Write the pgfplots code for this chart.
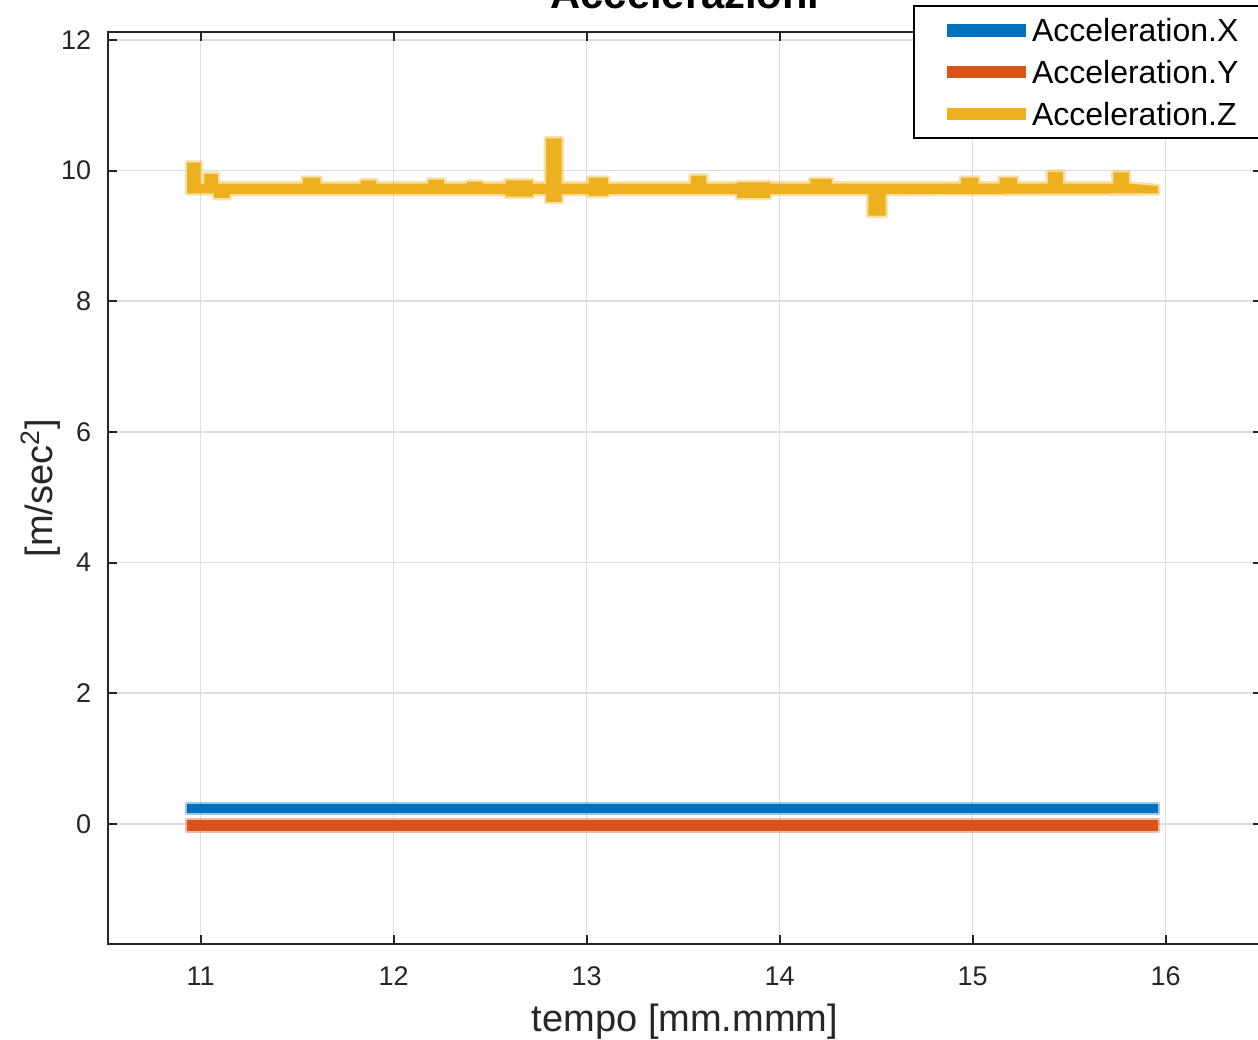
\documentclass[border=0pt]{standalone}
\usepackage{pgfplots}
\pgfplotsset{compat=1.18}
\usepackage{fontspec}
\setmainfont{Liberation Sans}
\definecolor{mblue}{RGB}{0,114,189}
\definecolor{morange}{RGB}{217,83,25}
\definecolor{myellow}{RGB}{237,177,32}
\definecolor{axgray}{RGB}{38,38,38}
\begin{document}
\begin{tikzpicture}
\useasboundingbox (-32.4pt,-28.8pt) rectangle (345pt,283.2pt);
\clip (-32.4pt,-28.8pt) rectangle (345pt,283.2pt);
\begin{axis}[
  at={(0,0)}, anchor=south west,
  scale only axis, width=346.2pt, height=273.6pt,
  xmin=10.52, xmax=16.5, ymin=-1.837, ymax=12.12,
  xtick={11,12,13,14,15,16}, ytick={0,2,4,6,8,10,12},
  grid=major, major grid style={line width=0.5pt, color=black!13},
  axis line style={line width=0.6pt, color=axgray},
  major tick style={line width=0.6pt, color=axgray},
  major tick length=2.7pt, tick align=inside,
  /pgf/number format/assume math mode=true,
  tick label style={font=\fontsize{8.1}{10}\selectfont, color=axgray},
  xticklabel style={yshift=-3.2pt},
  yticklabel style={xshift=-1.5pt},
  title={\bfseries Accelerazioni},
  every axis title/.style={at={(axis description cs:0.5,1.0252)}, anchor=base, font=\fontsize{12.5}{14}\selectfont},
  xlabel={tempo [mm.mmm]},
  every axis x label/.style={at={(axis description cs:0.5,0)}, anchor=base, yshift=-26.4pt, font=\fontsize{11.4}{13}\selectfont, color=axgray},
  ylabel={[m/sec\textsuperscript{2}]},
  every axis y label/.style={at={(axis description cs:-0.0477,0.5)}, rotate=90, anchor=base, font=\fontsize{11.4}{13}\selectfont, color=axgray},
  legend style={at={(axis description cs:0.6976,1.0296)}, anchor=north west,
    draw=black, line width=0.6pt, fill=white,
    font=\fontsize{9.6}{11}\selectfont,
    inner xsep=7.9pt, inner ysep=3.8pt, row sep=5.6pt,
    nodes={inner sep=0pt, text depth=0pt}},
  legend cell align=left,
  legend image code/.code={\draw[line width=3.8pt] (0pt,0pt) -- (23.7pt,0pt);},
]
\addlegendimage{mblue}
\addlegendentry{Acceleration.X}
\addlegendimage{morange}
\addlegendentry{Acceleration.Y}
\addlegendimage{myellow}
\addlegendentry{Acceleration.Z}

% Acceleration.X band
\addplot[forget plot, fill=mblue, draw=mblue, draw opacity=0.4, line width=1.4pt, line join=round]
  coordinates {(10.93,0.30) (15.96,0.30) (15.96,0.17) (10.93,0.17)} -- cycle;
% Acceleration.Y band
\addplot[forget plot, fill=morange, draw=morange, draw opacity=0.4, line width=1.4pt, line join=round]
  coordinates {(10.93,0.06) (15.96,0.06) (15.96,-0.11) (10.93,-0.11)} -- cycle;
% Acceleration.Z envelope
\addplot[forget plot, fill=myellow, draw=myellow, draw opacity=0.4, line width=1.4pt, line join=round]
  coordinates {
  (10.93,10.12) (11.00,10.12) (11.00,9.80) (11.02,9.80) (11.02,9.95) (11.09,9.95)
  (11.09,9.80) (11.53,9.80) (11.53,9.89) (11.62,9.89) (11.62,9.80) (11.83,9.80)
  (11.83,9.85) (11.91,9.85) (11.91,9.80) (12.18,9.80) (12.18,9.86) (12.26,9.86)
  (12.26,9.80) (12.38,9.80) (12.38,9.83) (12.46,9.83) (12.46,9.80) (12.58,9.80)
  (12.58,9.85) (12.72,9.85) (12.72,9.80) (12.79,9.80) (12.79,10.49) (12.87,10.49)
  (12.87,9.80) (13.01,9.80) (13.01,9.89) (13.11,9.89) (13.11,9.80) (13.54,9.80)
  (13.54,9.92) (13.62,9.92) (13.62,9.80) (13.78,9.80) (13.78,9.82) (13.95,9.82)
  (13.95,9.80) (14.16,9.80) (14.16,9.87) (14.27,9.87) (14.27,9.80) (14.94,9.80)
  (14.94,9.89) (15.03,9.89) (15.03,9.80) (15.14,9.80) (15.14,9.89) (15.23,9.89)
  (15.23,9.80) (15.39,9.80) (15.39,9.98) (15.47,9.98) (15.47,9.80) (15.73,9.80)
  (15.73,9.97) (15.81,9.97) (15.81,9.80) (15.96,9.76)
  (15.96,9.65) (14.55,9.64) (14.55,9.31) (14.46,9.31) (14.46,9.64) (13.95,9.64)
  (13.95,9.58) (13.78,9.58) (13.78,9.64) (13.11,9.64) (13.11,9.61) (13.01,9.61)
  (13.01,9.64) (12.87,9.64) (12.87,9.52) (12.79,9.52) (12.79,9.64) (12.72,9.64)
  (12.72,9.60) (12.58,9.60) (12.58,9.64) (11.15,9.64) (11.15,9.58) (11.07,9.58)
  (11.07,9.65) (10.93,9.65)} -- cycle;
\end{axis}
\end{tikzpicture}
\end{document}
